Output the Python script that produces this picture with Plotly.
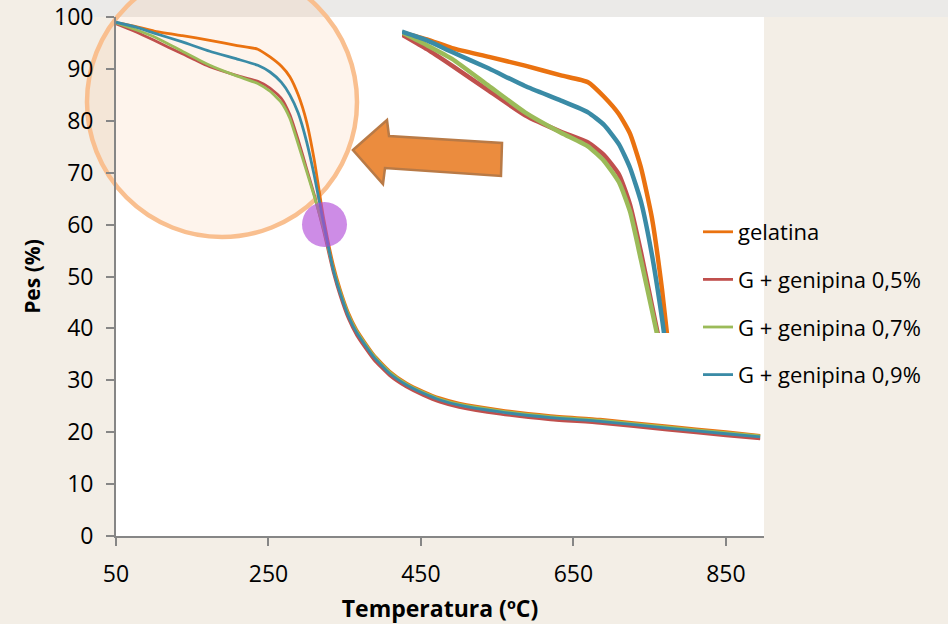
import plotly.graph_objects as go

# ---------------- data ----------------
temperatura = [50, 75, 100, 137, 173, 209, 236, 252, 267, 278, 289, 300, 310, 322,
               335, 344, 355, 366, 388, 409, 431, 453, 475, 500, 554, 620, 685, 773, 850, 895]

gelatina = [98.9, 98.2, 97.3, 96.4, 95.5, 94.5, 93.8, 92.3, 90.5, 88.5, 85.0, 79.8, 72.5, 61.5,
            52.3, 47.6, 43.0, 39.7, 35.0, 31.8, 29.5, 27.9, 26.6, 25.6, 24.3, 23.2, 22.5, 21.2, 20.1, 19.4]
gen_05 = [98.7, 97.2, 95.5, 92.9, 90.4, 88.7, 87.6, 86.3, 84.3, 81.2, 76.3, 70.8, 65.8, 59.0,
          50.8, 46.3, 41.8, 38.6, 34.0, 30.9, 28.7, 27.1, 25.8, 24.8, 23.5, 22.4, 21.7, 20.4, 19.3, 18.7]
gen_07 = [98.9, 97.6, 96.2, 93.4, 90.7, 88.6, 87.2, 85.7, 83.5, 80.5, 75.5, 70.3, 65.5, 59.4,
          51.5, 47.1, 42.6, 39.4, 34.8, 31.6, 29.3, 27.7, 26.4, 25.4, 24.1, 23.0, 22.3, 21.0, 19.9, 19.3]
gen_09 = [99.0, 98.1, 96.9, 95.2, 93.4, 91.9, 90.7, 89.4, 87.4, 85.0, 81.5, 76.0, 69.5, 60.5,
          51.3, 46.8, 42.3, 39.1, 34.5, 31.3, 29.1, 27.5, 26.2, 25.2, 23.9, 22.8, 22.1, 20.8, 19.7, 19.1]

series_names = ["gelatina", "G + genipina 0,5%", "G + genipina 0,7%", "G + genipina 0,9%"]
series_values = [gelatina, gen_05, gen_07, gen_09]
series_colors = ["#EA7210", "#C0504D", "#9BBB59", "#3A8BA6"]

x_ticks = [50, 250, 450, 650, 850]
y_ticks = [0, 10, 20, 30, 40, 50, 60, 70, 80, 90, 100]

# ---------------- geometry helpers (pixel -> paper) ----------------
W, H = 948, 624
L, R, T, B = 116, 184, 17, 88
PW, PH = W - L - R, H - T - B


def px(x):
    return (x - L) / PW


def py(y):
    return (H - B - y) / PH


FONT = "Open Sans"

fig = go.Figure()

# main curves
for name, vals, col in zip(series_names, series_values, series_colors):
    fig.add_trace(go.Scatter(
        x=temperatura, y=vals, mode="lines", name=name,
        line=dict(color=col, width=2.8, shape="spline", smoothing=0.5),
        legendgroup=name, showlegend=True, hoverinfo="skip",
        xaxis="x", yaxis="y"))

# magnified inset of the circled region
for name, vals, col in zip(series_names, series_values, series_colors):
    fig.add_trace(go.Scatter(
        x=temperatura, y=vals, mode="lines", name=name,
        line=dict(color=col, width=4.5, shape="spline", smoothing=0.5),
        legendgroup=name, showlegend=False, hoverinfo="skip",
        xaxis="x2", yaxis="y2"))

shapes = [
    # grey band above the chart
    dict(type="rect", xref="paper", yref="paper", x0=px(60), x1=px(W), y0=py(17), y1=py(0),
         fillcolor="#ebeae8", line=dict(width=0), layer="below"),
    # big highlight circle
    dict(type="circle", xref="paper", yref="paper",
         x0=px(87), x1=px(357), y0=py(237), y1=py(-33),
         fillcolor="rgba(248,189,140,0.17)", line=dict(color="#F9BF8F", width=4.5), layer="below"),
    # arrow
    dict(type="path", xref="paper", yref="paper",
         path=("M {:.4f},{:.4f} L {:.4f},{:.4f} L {:.4f},{:.4f} L {:.4f},{:.4f} L {:.4f},{:.4f} "
               "L {:.4f},{:.4f} L {:.4f},{:.4f} Z").format(
             px(353), py(150), px(387), py(120), px(389), py(136), px(502), py(143),
             px(501), py(176), px(385), py(168), px(383), py(184)),
         fillcolor="#EB8C3E", line=dict(color="#B97A46", width=2.5), layer="above"),
    # purple marker circle
    dict(type="circle", xref="paper", yref="paper",
         x0=px(302), x1=px(347), y0=py(247), y1=py(202),
         fillcolor="rgba(175,70,215,0.62)", line=dict(width=0), layer="above"),
]

axis_common = dict(
    showgrid=False, zeroline=False, showline=True, linecolor="#868686", linewidth=1.8,
    ticks="outside", ticklen=8, tickwidth=1.5, tickcolor="#868686", automargin=False,
    tickfont=dict(family=FONT, size=23, color="#000000"),
)

fig.update_layout(
    width=W, height=H,
    margin=dict(l=L, r=R, t=T, b=B, pad=0, autoexpand=False),
    paper_bgcolor="#f3eee6",
    plot_bgcolor="#ffffff",
    font=dict(family=FONT, color="#000000"),
    xaxis=dict(range=[50, 900], tickvals=x_ticks, ticklabelstandoff=8,
               title=dict(text="<b>Temperatura (ºC)</b>", font=dict(family=FONT, size=23),
                          standoff=14),
               **axis_common),
    yaxis=dict(range=[0, 100], tickvals=y_ticks, ticklabelstandoff=8,
               title=dict(text="<b>Pes (%)</b>", font=dict(family=FONT, size=21),
                          standoff=8),
               **axis_common),
    xaxis2=dict(domain=[px(402), px(734)], range=[50, 382], visible=False, anchor="y2"),
    yaxis2=dict(domain=[py(333), py(18)], range=[68, 100.4], visible=False, anchor="x2"),
    legend=dict(x=px(698), y=py(211), xanchor="left", yanchor="top",
                bgcolor="rgba(0,0,0,0)", borderwidth=0,
                font=dict(family=FONT, size=22, color="#000000"),
                traceorder="grouped", tracegroupgap=16, itemwidth=30),
    shapes=shapes,
    showlegend=True,
)

fig.write_html("out.html")
